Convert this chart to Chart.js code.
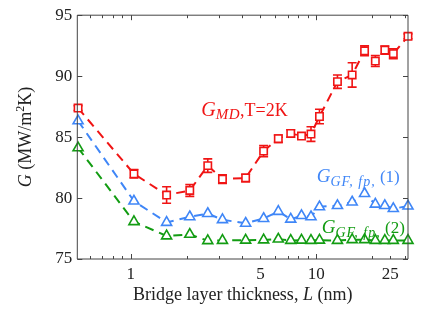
<!DOCTYPE html>
<html><head><meta charset="utf-8">
<script src="https://cdn.jsdelivr.net/npm/chart.js@4.4.1/dist/chart.umd.min.js"></script>
<style>html,body{margin:0;padding:0;background:#fff;}</style>
</head><body>
<canvas id="c" width="425" height="313"></canvas>
<script>
// ---- data ----
const L_nm = [0.52,1.04,1.56,2.08,2.6,3.12,4.16,5.2,6.24,7.28,8.32,9.36,10.4,13.0,15.6,18.2,20.8,23.4,26.0,31.2];
const G_MD = [87.38,81.99,80.25,80.62,82.66,81.55,81.65,83.85,84.87,85.3,85.09,85.25,86.69,89.55,90.1,92.08,91.24,92.14,91.84,93.27];
const G_MD_err = [0.2,0.35,0.68,0.48,0.55,0.35,0.3,0.45,0.3,0.3,0.2,0.6,0.6,0.55,1.0,0.4,0.45,0.33,0.4,0.2];
const G_GF1 = [86.33,79.75,78.0,78.46,78.73,78.22,77.93,78.32,78.9,78.26,78.56,78.46,79.28,79.38,79.67,80.37,79.49,79.38,79.13,79.34];
const G_GF2 = [84.12,78.06,76.89,77.02,76.5,76.52,76.54,76.56,76.63,76.52,76.54,76.52,76.54,76.52,76.58,76.58,76.52,76.52,76.52,76.52];
const xTickValues = [0.6,0.7,0.8,0.9,1,2,3,4,5,6,7,8,9,10,20,25,30];
const xTickLabels = ['','','','','1','','','','5','','','','','10','','25',''];
const xMajorTicks = [1,10];
const yTickValues = [75,80,85,90,95];

const RED = '#f01414', BLUE = '#3f86f7', GREEN = '#129c12', AX = '#444';
const FAM = '"Liberation Serif", "Times New Roman", serif';
const toXY = ys => L_nm.map((x,i)=>({x, y: ys[i]}));

function ds(label, ys, color, style, r){
  return {label, data: toXY(ys), borderColor: color, borderWidth: 2, borderDash: [9,6],
    pointStyle: style, pointRadius: r, pointBorderWidth: 1.6, pointBorderColor: color,
    pointBackgroundColor: '#fff', backgroundColor: '#fff', fill:false, tension: 0, clip: false};
}

const errPlugin = { id:'err', beforeDatasetsDraw(chart){
  const {ctx, scales:{x,y}} = chart; ctx.save(); ctx.strokeStyle = RED; ctx.lineWidth = 1.6;
  L_nm.forEach((L,i)=>{
    const px = x.getPixelForValue(L);
    const y1 = y.getPixelForValue(G_MD[i]-G_MD_err[i]), y2 = y.getPixelForValue(G_MD[i]+G_MD_err[i]);
    ctx.beginPath(); ctx.moveTo(px,y1); ctx.lineTo(px,y2);
    ctx.moveTo(px-4.5,y1); ctx.lineTo(px+4.5,y1); ctx.moveTo(px-4.5,y2); ctx.lineTo(px+4.5,y2); ctx.stroke();
  }); ctx.restore(); } };

const framePlugin = { id:'frame', afterDatasetsDraw(chart){
  const {ctx, chartArea:a, scales:{x,y}} = chart; ctx.save(); ctx.strokeStyle = AX; ctx.lineWidth = 1;
  ctx.beginPath(); ctx.rect(a.left, a.top, a.right-a.left, a.bottom-a.top);
  xTickValues.forEach(v=>{ const px = Math.round(x.getPixelForValue(v))+0.5; const len = xMajorTicks.includes(v)?5:3;
    ctx.moveTo(px,a.bottom); ctx.lineTo(px,a.bottom-len); ctx.moveTo(px,a.top); ctx.lineTo(px,a.top+len); });
  yTickValues.forEach(v=>{ const py = Math.round(y.getPixelForValue(v))+0.5;
    ctx.moveTo(a.left,py); ctx.lineTo(a.left+5,py); ctx.moveTo(a.right,py); ctx.lineTo(a.right-5,py); });
  ctx.stroke(); ctx.restore(); } };

function rich(ctx, x, y, parts, color, align){
  ctx.save(); ctx.fillStyle = color; ctx.textBaseline = 'alphabetic'; ctx.textAlign = 'left';
  let w = 0; parts.forEach(p=>{ ctx.font = p.f; ctx.letterSpacing = p.ls || '0px'; w += ctx.measureText(p.t).width; });
  let cx = align === 'center' ? x - w/2 : x;
  parts.forEach(p=>{ ctx.font = p.f; ctx.letterSpacing = p.ls || '0px'; ctx.fillText(p.t, cx, y + (p.dy||0)); cx += ctx.measureText(p.t).width; });
  ctx.restore(); return w;
}

const textPlugin = { id:'texts', afterDraw(chart){
  const {ctx, chartArea:a, scales:{x,y}} = chart;
  rich(ctx, x.getPixelForValue(2.4), y.getPixelForValue(86.7), [
    {t:'G', f:'italic 20px '+FAM}, {t:'MD', f:'italic 15px '+FAM, dy:3, ls:'0.5px'}, {t:',T=2K', f:'18px '+FAM}], RED);
  rich(ctx, x.getPixelForValue(10.05), y.getPixelForValue(81.35), [
    {t:'G', f:'italic 19px '+FAM}, {t:'GF, fp,', f:'italic 14px '+FAM, dy:4, ls:'1px'}, {t:' (1)', f:'17px '+FAM}], BLUE);
  rich(ctx, x.getPixelForValue(10.7), y.getPixelForValue(77.1), [
    {t:'G', f:'italic 19px '+FAM}, {t:'GF, fp,', f:'italic 14px '+FAM, dy:4, ls:'1px'}, {t:' (2)', f:'17px '+FAM}], GREEN);
  rich(ctx, (a.left+a.right)/2, 299.5, [
    {t:'Bridge layer thickness, ', f:'18px '+FAM}, {t:'L', f:'italic 18px '+FAM}, {t:' (nm)', f:'18px '+FAM}], '#222', 'center');
  ctx.save(); ctx.translate(31, (a.top+a.bottom)/2); ctx.rotate(-Math.PI/2);
  rich(ctx, 0, 0, [
    {t:'G', f:'italic 18px '+FAM}, {t:' (MW/m', f:'18px '+FAM}, {t:'2', f:'12px '+FAM, dy:-7}, {t:'K)', f:'18px '+FAM}], '#222', 'center');
  ctx.restore();
} };

new Chart(document.getElementById('c'), {
  type: 'line',
  data: { datasets: [
    ds('G_MD', G_MD, RED, 'rect', 5.2),
    ds('G_GF1', G_GF1, BLUE, 'triangle', 5.8),
    ds('G_GF2', G_GF2, GREEN, 'triangle', 5.8)
  ]},
  options: {
    responsive: false, animation: false, devicePixelRatio: 1,
    layout: { padding: { top: 14, right: 17, left: 0, bottom: 0 } },
    plugins: { legend: { display: false }, tooltip: { enabled: false } },
    scales: {
      x: { type: 'logarithmic', min: 0.515, max: 31.2,
        afterBuildTicks: s => { s.ticks = xTickValues.map(v => ({value: v})); },
        afterFit: s => { s.height = 54; },
        ticks: { autoSkip: false, maxRotation: 0, minRotation: 0, padding: 5, color: '#222',
          font: { size: 17, family: FAM },
          callback: v => { const i = xTickValues.indexOf(v); return i >= 0 ? xTickLabels[i] : ''; } },
        grid: { display: false, drawTicks: false }, border: { display: false }, title: { display: false } },
      y: { min: 75, max: 95,
        afterBuildTicks: s => { s.ticks = yTickValues.map(v => ({value: v})); },
        afterFit: s => { s.width = 77.3; },
        ticks: { padding: 5, color: '#222', font: { size: 17, family: FAM } },
        grid: { display: false, drawTicks: false }, border: { display: false }, title: { display: false } }
    }
  },
  plugins: [errPlugin, framePlugin, textPlugin]
});
</script>
</body></html>
